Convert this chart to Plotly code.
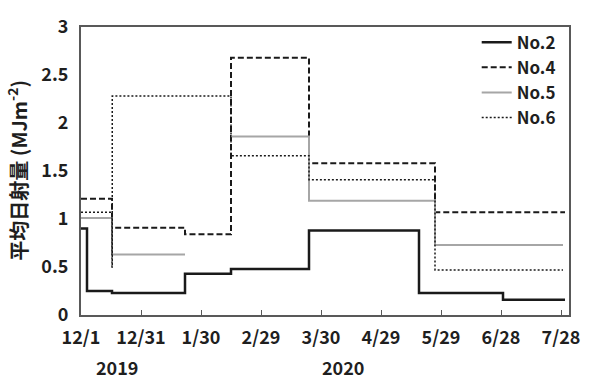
import plotly.graph_objects as go

# Step boundaries (start of each interval, last entry = end of record) and mean values
no2_dates = ["2019-12-01", "2019-12-04", "2019-12-16 12:00", "2020-01-22", "2020-02-14",
             "2020-03-24", "2020-05-18", "2020-06-29", "2020-07-30"]
no2_vals = [0.90, 0.25, 0.23, 0.43, 0.48, 0.88, 0.23, 0.16, 0.16]

no4_dates = ["2019-12-01", "2019-12-16 12:00", "2020-01-22", "2020-02-14", "2020-03-24",
             "2020-05-26", "2020-07-30"]
no4_vals = [1.21, 0.91, 0.84, 2.68, 1.58, 1.07, 1.07]

no5_dates = ["2019-12-01", "2019-12-16 12:00", "2020-01-22", "2020-01-22", "2020-02-14",
             "2020-03-24", "2020-05-26", "2020-07-29"]
no5_vals = [1.01, 0.63, 0.63, None, 1.86, 1.19, 0.73, 0.73]

no6_dates = ["2019-12-01", "2019-12-16 12:00", "2019-12-16 15:00", "2020-02-14",
             "2020-03-24", "2020-05-26", "2020-07-29"]
no6_vals = [1.07, 0.50, 2.28, 1.66, 1.41, 0.47, 0.47]

tick_dates = ["2019-12-01", "2019-12-31", "2020-01-30", "2020-02-29", "2020-03-30",
              "2020-04-29", "2020-05-29", "2020-06-28", "2020-07-28"]
tick_text = ["12/1", "12/31", "1/30", "2/29", "3/30", "4/29", "5/29", "6/28", "7/28"]
y_ticks = [0, 0.5, 1, 1.5, 2, 2.5, 3]
y_tick_text = ["0", "0.5", "1", "1.5", "2", "2.5", "3"]

FONT = "Noto Sans CJK JP"
TEXT = "#1f1f1f"

series = [
    ("No.2", no2_dates, no2_vals, dict(color="#1a1a1a", width=2.5)),
    ("No.4", no4_dates, no4_vals, dict(color="#1a1a1a", width=2, dash="6px,3px")),
    ("No.5", no5_dates, no5_vals, dict(color="#a6a6a6", width=2)),
    ("No.6", no6_dates, no6_vals, dict(color="#1a1a1a", width=1.5, dash="2px,2px")),
]

fig = go.Figure()
for name, xs, ys, line in series:
    fig.add_trace(go.Scatter(
        x=xs, y=ys, name=name, mode="lines", line=dict(shape="hv", **line),
        connectgaps=False,
    ))

axis_common = dict(
    showline=True, linecolor="#595959", linewidth=2, mirror=True,
    showgrid=False, zeroline=False,
    tickfont=dict(family=FONT, size=18, color=TEXT, weight="bold"),
)

fig.update_layout(
    width=592, height=380,
    margin=dict(l=81, r=12, t=15, b=65),
    paper_bgcolor="white", plot_bgcolor="white",
    font=dict(family=FONT, color=TEXT),
    xaxis=dict(
        type="date", range=["2019-12-01", "2020-08-01"],
        tickmode="array", tickvals=tick_dates, ticktext=tick_text,
        ticks="inside", ticklen=5, tickcolor="#595959", tickwidth=1,
        ticklabelstandoff=5,
        **axis_common,
    ),
    yaxis=dict(
        range=[0, 3], tickmode="array", tickvals=y_ticks, ticktext=y_tick_text,
        ticks="", ticklabelstandoff=7,
        **axis_common,
    ),
    legend=dict(
        x=0.983, xanchor="right", y=1.008, yanchor="top",
        bgcolor="rgba(0,0,0,0)", itemwidth=30,
        font=dict(family=FONT, size=17, color=TEXT, weight="bold"),
    ),
    showlegend=True,
)

# Vertical axis title
fig.add_annotation(
    text="平均日射量 (MJm<sup>-2</sup>)", textangle=-90,
    xref="paper", yref="paper", x=-0.13, y=0.503, xanchor="center", yanchor="middle",
    showarrow=False, font=dict(family=FONT, size=20, color=TEXT, weight="bold"),
)

# Year labels under the date ticks
for label, date in [("2019", "2019-12-19"), ("2020", "2020-04-10")]:
    fig.add_annotation(
        text=label, xref="x", yref="paper", x=date, y=-0.18,
        xanchor="center", yanchor="middle", showarrow=False,
        font=dict(family=FONT, size=18, color=TEXT, weight="bold"),
    )

fig.write_html("out.html")
